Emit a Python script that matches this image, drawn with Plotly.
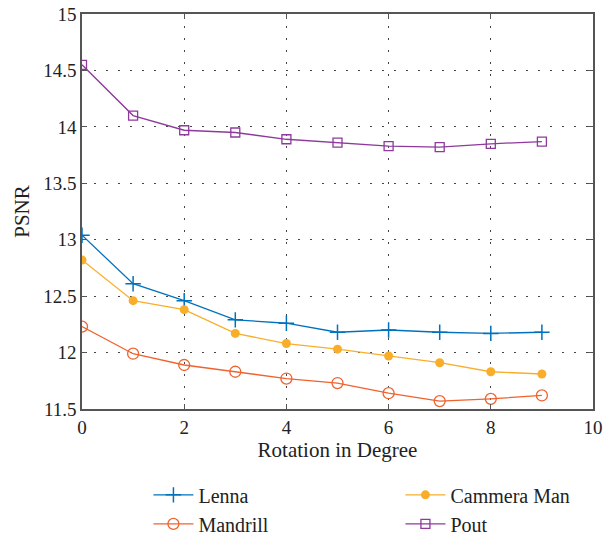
import plotly.graph_objects as go

x_deg = [0, 1, 2, 3, 4, 5, 6, 7, 8, 9]
lenna = [13.04, 12.61, 12.46, 12.29, 12.26, 12.18, 12.20, 12.18, 12.17, 12.18]
mandrill = [12.23, 11.99, 11.89, 11.83, 11.77, 11.73, 11.64, 11.57, 11.59, 11.62]
cammera = [12.82, 12.46, 12.38, 12.17, 12.08, 12.03, 11.97, 11.91, 11.83, 11.81]
pout = [14.55, 14.10, 13.97, 13.95, 13.89, 13.86, 13.83, 13.82, 13.85, 13.87]

FONT = "Liberation Serif"
TXT = "#222222"

fig = go.Figure()
fig.add_trace(go.Scatter(x=x_deg, y=lenna, name="Lenna", mode="lines+markers",
                         line=dict(color="#0072BD", width=1.3),
                         marker=dict(symbol="cross-thin-open", size=11, line=dict(color="#0072BD", width=1.5))))
fig.add_trace(go.Scatter(x=x_deg, y=cammera, name="Cammera Man", mode="lines+markers",
                         line=dict(color="#F9AE2A", width=1.3),
                         marker=dict(symbol="circle", size=9, color="#F9AE2A")))
fig.add_trace(go.Scatter(x=x_deg, y=mandrill, name="Mandrill", mode="lines+markers",
                         line=dict(color="#F0622E", width=1.3),
                         marker=dict(symbol="circle-open", size=11, line=dict(color="#F0622E", width=1.3))))
fig.add_trace(go.Scatter(x=x_deg, y=pout, name="Pout", mode="lines+markers",
                         line=dict(color="#8E3A9C", width=1.3),
                         marker=dict(symbol="square-open", size=9, line=dict(color="#8E3A9C", width=1.3))))

axis_common = dict(showline=True, linecolor="#555555", linewidth=1.5, mirror="ticks",
                   ticks="inside", ticklen=5, tickcolor="#555555",
                   showgrid=True, gridcolor="#444444", gridwidth=1, griddash="2px,10px",
                   zeroline=False, tickfont=dict(family=FONT, size=19, color=TXT))

fig.update_xaxes(range=[0, 10], dtick=2, tick0=0,
                 title=dict(text="Rotation in Degree", font=dict(family=FONT, size=21, color=TXT), standoff=6),
                 **axis_common)
fig.update_yaxes(range=[11.5, 15], dtick=0.5, tick0=11.5,
                 title=dict(text="PSNR", font=dict(family=FONT, size=21, color=TXT), standoff=8),
                 **axis_common)

fig.update_layout(
    width=615, height=539,
    margin=dict(l=82, r=22, t=14, b=130, autoexpand=False),
    paper_bgcolor="white", plot_bgcolor="white",
    font=dict(family=FONT, size=19, color=TXT),
    legend=dict(orientation="h", x=0.13, y=-0.168, xanchor="left", yanchor="top",
                entrywidth=197, tracegroupgap=0, itemwidth=40,
                font=dict(family=FONT, size=20, color=TXT)),
    showlegend=True,
)

fig.write_html("out.html")
